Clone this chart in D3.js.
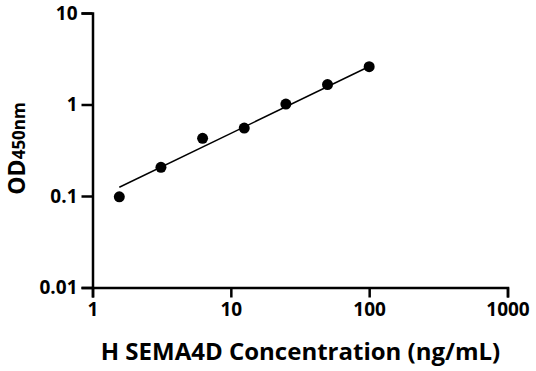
<!DOCTYPE html>
<html><head><meta charset="utf-8">
<script src="https://cdn.jsdelivr.net/npm/d3@7"></script>
<style>body{margin:0;background:#fff}svg{display:block}</style>
</head><body><svg id="c" width="536" height="371"></svg>
<script>
const concX = [1.5625, 3.125, 6.25, 12.5, 25, 50, 100];
const odY = [0.098, 0.206, 0.427, 0.553, 1.01, 1.65, 2.59];
const fitX = [1.5625, 100];
const fitY = [0.1245, 2.6];
const xTicks = [1, 10, 100, 1000];
const yTicks = [0.01, 0.1, 1, 10];
const xTitle = "H SEMA4D Concentration (ng/mL)";

const svg = d3.select("#c");
const font = "'Open Sans', sans-serif";
const x = d3.scaleLog().domain([1, 1000]).range([92.5, 507.5]);
const y = d3.scaleLog().domain([0.01, 10]).range([287.5, 13]);

const xa = svg.append("g").attr("transform", "translate(0,287.5)")
  .call(d3.axisBottom(x).tickValues(xTicks).tickFormat(d3.format("d")).tickSize(10).tickPadding(5));
const ya = svg.append("g").attr("transform", "translate(92.5,0)")
  .call(d3.axisLeft(y).tickValues(yTicks).tickFormat(d => String(d)).tickSize(11).tickPadding(4));
[xa, ya].forEach(a => {
  a.select(".domain").attr("stroke", "#000").attr("stroke-width", 2.5);
  a.selectAll(".tick line").attr("stroke", "#000").attr("stroke-width", 2.5);
  a.selectAll(".tick text").attr("fill", "#000").attr("font-family", font)
    .attr("font-weight", "bold").attr("font-size", 19);
});

svg.append("path")
  .datum(fitX.map((d, i) => [d, fitY[i]]))
  .attr("d", d3.line().x(d => x(d[0])).y(d => y(d[1])))
  .attr("stroke", "#000").attr("stroke-width", 1.5).attr("fill", "none");

svg.selectAll("circle.pt").data(concX).enter().append("circle")
  .attr("class", "pt")
  .attr("cx", d => x(d)).attr("cy", (d, i) => y(odY[i])).attr("r", 5.5).attr("fill", "#000");

svg.append("text").attr("x", 300.5).attr("y", 359.5).attr("text-anchor", "middle")
  .attr("font-family", font).attr("font-weight", "bold").attr("font-size", 24)
  .attr("fill", "#000").text(xTitle);

const yl = svg.append("text").attr("transform", "translate(24.5,148.5) rotate(-90)")
  .attr("text-anchor", "middle").attr("font-family", font).attr("font-weight", "bold").attr("fill", "#000");
yl.append("tspan").attr("font-size", 23).text("OD");
yl.append("tspan").attr("font-size", 17).text("450nm");
</script></body></html>
